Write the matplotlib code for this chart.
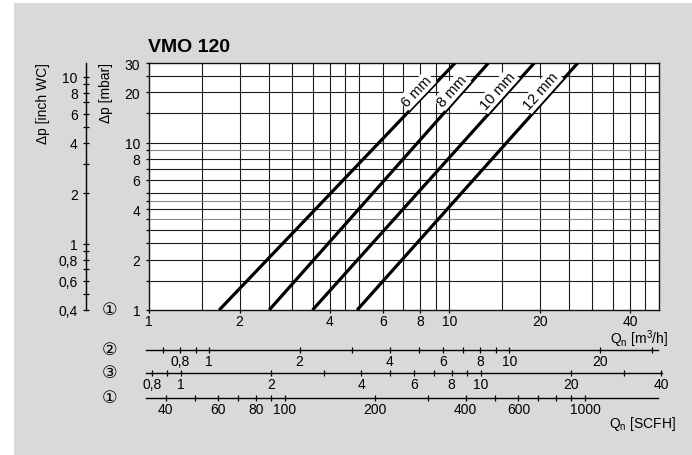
import numpy as np
import matplotlib
matplotlib.use("Agg")
import matplotlib.pyplot as plt
from matplotlib.patches import Rectangle
from matplotlib.ticker import FixedLocator, NullFormatter, FixedFormatter

plt.rcParams['font.family'] = ['Liberation Sans', 'DejaVu Sans', 'Noto Sans CJK JP']
plt.rcParams['mathtext.fontset'] = 'custom'
plt.rcParams['mathtext.rm'] = 'Liberation Sans'
plt.rcParams['mathtext.it'] = 'Liberation Sans:italic'

# ---------------- data ----------------
title = "VMO 120"
orifices = ["6 mm", "8 mm", "10 mm", "12 mm"]
q_at_1mbar = [1.71, 2.51, 3.50, 4.93]      # m3/h at 1 mbar
q_at_30mbar = [10.45, 13.5, 19.2, 26.8]    # m3/h at 30 mbar
dp_ends = [1, 30]

x_range = [1, 50]
y_range = [1, 30]
x_grid = [1.5, 2, 2.5, 3, 3.5, 4, 4.5, 5, 6, 7, 8, 9, 10, 15, 20, 25, 30, 35, 40, 45]
x_labels = [1, 2, 4, 6, 8, 10, 20, 40]
y_grid = [1.5, 2, 2.5, 3, 3.5, 4, 4.5, 5, 6, 7, 8, 9, 10, 15, 20, 25]
y_light = [3.5, 4.5, 9]
y_labels = [1, 2, 4, 6, 8, 10, 20, 30]

mbar_per_inchwc = 2.49
inch_range = [0.4, 30 / 2.49]
inch_major = [0.4, 0.6, 0.8, 1, 2, 4, 6, 8, 10]
inch_minor = [0.5, 0.7, 0.9, 3, 5, 7, 9]

scale2_factor = 1.585
scale2_labeled = [0.8, 1, 2, 4, 6, 8, 10, 20]
scale2_unlabeled = [0.7, 0.9, 3, 5, 7, 9, 30]
scale3_factor = 1.273
scale3_labeled = [0.8, 1, 2, 4, 6, 8, 10, 20, 40]
scale3_unlabeled = [0.9, 3, 5, 7, 9, 30]
scfh_factor = 1 / 35.31
scfh_labeled = [40, 60, 80, 100, 200, 400, 600, 1000]
scfh_unlabeled = [50, 70, 90, 300, 500, 700, 800, 900]

# ---------------- layout helpers ----------------
W, H = 692, 456
def fx(p): return p / W
def fy(p): return 1 - p / H

L_PX, R_PX, T_PX, B_PX = 149.3, 659.0, 64.0, 311.0
DEC_PX = (R_PX - L_PX) / np.log10(x_range[1] / x_range[0])

fig = plt.figure(figsize=(W / 100, H / 100), dpi=100)
fig.patch.set_facecolor('white')
fig.patches.append(Rectangle((fx(14), 0), 1 - fx(14), fy(4), transform=fig.transFigure,
                             facecolor='#d9d9d9', edgecolor='none', zorder=-10))

def fmt(v):
    return f"{v:g}".replace('.', ',')

FS = 10
ax = fig.add_axes([fx(L_PX), fy(B_PX), (R_PX - L_PX) / W, (B_PX - T_PX) / H])
ax.set_facecolor('white')
ax.set_xscale('log'); ax.set_yscale('log')
ax.set_xlim(*x_range); ax.set_ylim(*y_range)

for v in x_grid:
    ax.axvline(v, color='#1a1a1a', lw=0.8, zorder=1)
for v in y_grid:
    ax.axhline(v, color='#8a8a8a' if v in y_light else '#1a1a1a', lw=0.8, zorder=1)

ax.xaxis.set_major_locator(FixedLocator(x_labels))
ax.xaxis.set_major_formatter(FixedFormatter([fmt(v) for v in x_labels]))
ax.xaxis.set_minor_locator(FixedLocator(x_grid))
ax.xaxis.set_minor_formatter(NullFormatter())
ax.yaxis.set_major_locator(FixedLocator(y_labels))
ax.yaxis.set_major_formatter(FixedFormatter([fmt(v) for v in y_labels]))
ax.yaxis.set_minor_locator(FixedLocator(y_grid))
ax.yaxis.set_minor_formatter(NullFormatter())
ax.tick_params(axis='x', which='major', direction='out', length=2.4, width=0.9, pad=0.6, labelsize=FS)
ax.tick_params(axis='x', which='minor', length=0)
ax.tick_params(axis='y', which='both', direction='out', length=2.4, width=0.9, pad=4.2, labelsize=FS)
for s in ax.spines.values():
    s.set_linewidth(1.0); s.set_color('#111111')

for name, q1, q30 in zip(orifices, q_at_1mbar, q_at_30mbar):
    ax.plot([q1, q30], dp_ends, color='black', lw=2.3, solid_capstyle='butt', zorder=3)
    p1 = ax.transData.transform((q1, dp_ends[0]))
    p2 = ax.transData.transform((q30, dp_ends[1]))
    ang = np.degrees(np.arctan2(p2[1] - p1[1], p2[0] - p1[0]))
    yl = 20.5
    t = np.log10(yl / dp_ends[0]) / np.log10(dp_ends[1] / dp_ends[0])
    xl = 10 ** (np.log10(q1) + t * (np.log10(q30) - np.log10(q1)))
    ax.annotate(name, xy=(xl, yl), xytext=(-8.5, 0), textcoords='offset points',
                rotation=ang, rotation_mode='anchor', ha='center', va='center', fontsize=10.5,
                bbox=dict(boxstyle='square,pad=0.1', fc='white', ec='none'), zorder=4)

# inch WC axis
axi = fig.add_axes([fx(86), fy(B_PX), 0.0005, (B_PX - T_PX) / H])
axi.set_yscale('log')
axi.set_ylim(*inch_range)
axi.patch.set_visible(False)
for k in ['top', 'right', 'bottom']:
    axi.spines[k].set_visible(False)
axi.spines['left'].set_linewidth(1.0)
axi.set_xticks([])
axi.yaxis.set_major_locator(FixedLocator(inch_major))
axi.yaxis.set_major_formatter(FixedFormatter([fmt(v) for v in inch_major]))
axi.yaxis.set_minor_locator(FixedLocator(inch_minor))
axi.yaxis.set_minor_formatter(NullFormatter())
axi.tick_params(axis='y', which='both', direction='inout', length=5, width=0.9, pad=3.5, labelsize=FS)

# secondary flow scales
def flow_scale(y_px, factor, labeled, unlabeled, px0, px1):
    a = fig.add_axes([fx(px0), fy(y_px), (px1 - px0) / W, 0.0001])
    a.set_xscale('log')
    lo = x_range[0] * 10 ** ((px0 - L_PX) / DEC_PX) / factor
    hi = x_range[0] * 10 ** ((px1 - L_PX) / DEC_PX) / factor
    a.set_xlim(lo, hi)
    a.patch.set_visible(False)
    for k in ['top', 'right', 'left']:
        a.spines[k].set_visible(False)
    a.spines['bottom'].set_linewidth(1.0)
    a.set_yticks([])
    a.xaxis.set_major_locator(FixedLocator(labeled))
    a.xaxis.set_major_formatter(FixedFormatter([fmt(v) for v in labeled]))
    a.xaxis.set_minor_locator(FixedLocator(unlabeled))
    a.xaxis.set_minor_formatter(NullFormatter())
    a.tick_params(axis='x', which='both', direction='inout', length=5, width=0.9, pad=0.3, labelsize=FS)
    return a

flow_scale(350.7, scale2_factor, scale2_labeled, scale2_unlabeled, 146, 658)
flow_scale(374.0, scale3_factor, scale3_labeled, scale3_unlabeled, 146, 662)
flow_scale(398.7, scfh_factor, scfh_labeled, scfh_unlabeled, 146, 658)

# texts
fig.text(fx(148), fy(52), title, fontsize=14, fontweight='bold', ha='left', va='baseline')
fig.text(fx(42.7), fy(63), "Δp [inch WC]", rotation=90, ha='center', va='top', fontsize=FS)
fig.text(fx(106), fy(63), "Δp [mbar]", rotation=90, ha='center', va='top', fontsize=FS)
for lab, ypx in [("①", 311), ("②", 350.7), ("③", 374), ("①", 398.7)]:
    fig.text(fx(110), fy(ypx), lab, ha='center', va='center', fontsize=12.5)
fig.text(fx(668), fy(344), r"Q$_\mathrm{n}$ [m$^\mathrm{3}$/h]", ha='right', va='baseline', fontsize=FS)
fig.text(fx(676), fy(428), r"Q$_\mathrm{n}$ [SCFH]", ha='right', va='baseline', fontsize=FS)

fig.savefig("out.png", dpi=100, facecolor=fig.get_facecolor())
